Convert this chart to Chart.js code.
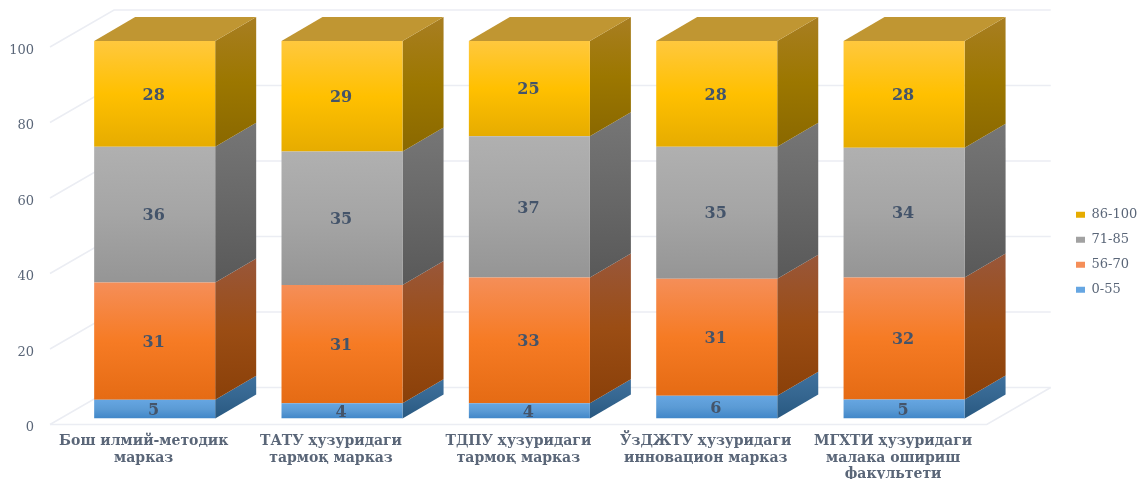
<!DOCTYPE html>
<html>
<head>
<meta charset="utf-8">
<script src="https://cdn.jsdelivr.net/npm/chart.js@4"></script>
<style>
  html, body { margin: 0; padding: 0; background: #fff; }
  canvas { display: block; }
</style>
</head>
<body>
<canvas id="chart" width="1140" height="479"></canvas>
<script>
// ====== DATA ======
const categories = [
  ['Бош илмий-методик', 'марказ'],
  ['ТАТУ ҳузуридаги', 'тармоқ марказ'],
  ['ТДПУ ҳузуридаги', 'тармоқ марказ'],
  ['ЎзДЖТУ ҳузуридаги', 'инновацион марказ'],
  ['МГХТИ ҳузуридаги', 'малака ошириш', 'факультети']
];
const band0to55 = [5, 4, 4, 6, 5];
const band56to70 = [31, 31, 33, 31, 32];
const band71to85 = [36, 35, 37, 35, 34];
const band86to100 = [28, 29, 25, 28, 28];
const seriesNames = ['0-55', '56-70', '71-85', '86-100'];
const seriesValues = [band0to55, band56to70, band71to85, band86to100];

// colours: front [top, middle, bottom], side [top, middle, bottom], top face
const frontColors = [
  ['#66a6e2', '#5b9bd5', '#4086c8'],
  ['#f58e58', '#f67b24', '#e56b14'],
  ['#b0b0b0', '#a5a5a5', '#959595'],
  ['#ffc83e', '#ffc000', '#e6ac00']
];
const sideColors = [
  ['#3f719e', '#356690', '#285880'],
  ['#99573a', '#9b4d14', '#8a4009'],
  ['#767676', '#686868', '#595959'],
  ['#a87e22', '#9c7700', '#8a6800']
];
const topColor = '#c09632';
const gridColor = '#ebedf3';
const textColor = '#5a6678';
const labelColor = '#44546a';

// the picture is a 100% stacked chart, the printed values do not always sum to 100
function percentOf(seriesIndex) {
  return seriesValues[seriesIndex].map((v, i) => {
    const total = seriesValues.reduce((sum, s) => sum + s[i], 0);
    return v / total * 100;
  });
}

// ====== 3D LOOK ======
const wallDepth = { x: 64, y: -37 };  // front plane of the box to the back wall
const wallLift = -3.5;                // tick text sits a bit under its grid line
const barShift = { x: 11, y: -9.5 };  // bars stand a little inside the box
const barDepth = { x: 41, y: -24 };

function verticalGradient(ctx, y0, y1, stops) {
  const g = ctx.createLinearGradient(0, y0, 0, y1);
  g.addColorStop(0, stops[0]);
  g.addColorStop(0.5, stops[1]);
  g.addColorStop(1, stops[2]);
  return g;
}

function frontFill(context) {
  const i = context.datasetIndex;
  if (context.dataIndex === undefined) return frontColors[i][1];
  const yScale = context.chart.scales.y;
  let base = 0;
  for (let d = 0; d < i; d++) base += context.chart.data.datasets[d].data[context.dataIndex];
  const top = base + context.chart.data.datasets[i].data[context.dataIndex];
  const y0 = yScale.getPixelForValue(top);
  const y1 = yScale.getPixelForValue(base);
  // scale has no size yet on the first pass
  if (!isFinite(y0) || !isFinite(y1)) return frontColors[i][1];
  return verticalGradient(context.chart.ctx, y0, y1, frontColors[i]);
}

function polygon(ctx, pts, fill) {
  ctx.beginPath();
  pts.forEach((p, i) => i ? ctx.lineTo(p[0], p[1]) : ctx.moveTo(p[0], p[1]));
  ctx.closePath();
  ctx.fillStyle = fill;
  ctx.fill();
}

const box3d = {
  id: 'box3d',
  beforeDatasetsDraw(chart) {
    const ctx = chart.ctx;
    const { left, right, bottom } = chart.chartArea;
    const yScale = chart.scales.y;

    // walls
    ctx.save();
    ctx.strokeStyle = gridColor;
    ctx.lineWidth = 1.5;
    ctx.translate(0, wallLift);
    yScale.ticks.forEach(t => {
      const y = yScale.getPixelForValue(t.value);
      ctx.beginPath();
      ctx.moveTo(left, y);
      ctx.lineTo(left + wallDepth.x, y + wallDepth.y);
      ctx.lineTo(right + wallDepth.x, y + wallDepth.y);
      ctx.stroke();
    });
    ctx.beginPath();
    ctx.moveTo(left, bottom);
    ctx.lineTo(right, bottom);
    ctx.lineTo(right + wallDepth.x, bottom + wallDepth.y);
    ctx.stroke();
    ctx.restore();

    // sides and lids of the bars, the fronts are the chart's own bars
    ctx.save();
    ctx.translate(barShift.x, barShift.y);
    chart.data.datasets.forEach((ds, d) => {
      chart.getDatasetMeta(d).data.forEach(bar => {
        const x0 = bar.x - bar.width / 2;
        const x1 = bar.x + bar.width / 2;
        polygon(ctx, [
          [x1, bar.y], [x1 + barDepth.x, bar.y + barDepth.y],
          [x1 + barDepth.x, bar.base + barDepth.y], [x1, bar.base]
        ], verticalGradient(ctx, bar.y + barDepth.y, bar.base, sideColors[d]));
        if (d === chart.data.datasets.length - 1) {
          polygon(ctx, [
            [x0, bar.y], [x1, bar.y],
            [x1 + barDepth.x, bar.y + barDepth.y], [x0 + barDepth.x, bar.y + barDepth.y]
          ], topColor);
        }
      });
    });
    // stays translated for the fronts, see afterDatasetsDraw
  },
  afterDatasetsDraw(chart) {
    const ctx = chart.ctx;
    ctx.font = 'bold 16px "DejaVu Serif"';
    ctx.fillStyle = labelColor;
    ctx.textAlign = 'center';
    ctx.textBaseline = 'middle';
    chart.data.datasets.forEach((ds, d) => {
      chart.getDatasetMeta(d).data.forEach((bar, i) => {
        ctx.fillText(seriesValues[d][i], bar.x - 1, (bar.y + bar.base) / 2 + 1.5);
      });
    });
    ctx.restore();
  },
  afterLayout(chart) {
    // legend sits far right of the box, and a bit higher than its centre
    const w = chart.legend.right - chart.legend.left;
    chart.legend.left = 1064;
    chart.legend.right = 1064 + w;
    chart.legend.top -= 12.5;
    chart.legend.bottom -= 12.5;
  }
};

// ====== CHART ======
new Chart(document.getElementById('chart'), {
  type: 'bar',
  data: {
    labels: categories,
    datasets: seriesNames.map((name, i) => ({
      label: name,
      data: percentOf(i),
      backgroundColor: frontFill,
      borderWidth: 0,
      barPercentage: 0.646,
      categoryPercentage: 1
    }))
  },
  options: {
    responsive: false,
    animation: false,
    layout: { padding: { top: 50.5, right: 70, left: 0, bottom: 0 } },
    plugins: {
      tooltip: { enabled: false },
      legend: {
        position: 'right',
        reverse: true,
        labels: {
          boxWidth: 9,
          boxHeight: 6,
          padding: 12,
          color: textColor,
          font: { family: '"DejaVu Serif"', size: 13 }
        }
      }
    },
    scales: {
      x: {
        stacked: true,
        grid: { display: false, drawTicks: false },
        border: { display: false },
        ticks: {
          autoSkip: false,
          maxRotation: 0,
          padding: 5.5,
          color: textColor,
          font: { family: '"DejaVu Serif"', size: 14, weight: 'bold', lineHeight: 1.18 }
        },
        afterFit(scale) { scale.height = 51; }
      },
      y: {
        stacked: true,
        min: 0,
        max: 100,
        grid: { display: false, drawTicks: false },
        border: { display: false },
        ticks: {
          stepSize: 20,
          padding: 16,
          color: textColor,
          font: { family: '"DejaVu Serif"', size: 13 }
        },
        afterFit(scale) { scale.width = 50; }
      }
    }
  },
  plugins: [box3d]
});
</script>
</body>
</html>
